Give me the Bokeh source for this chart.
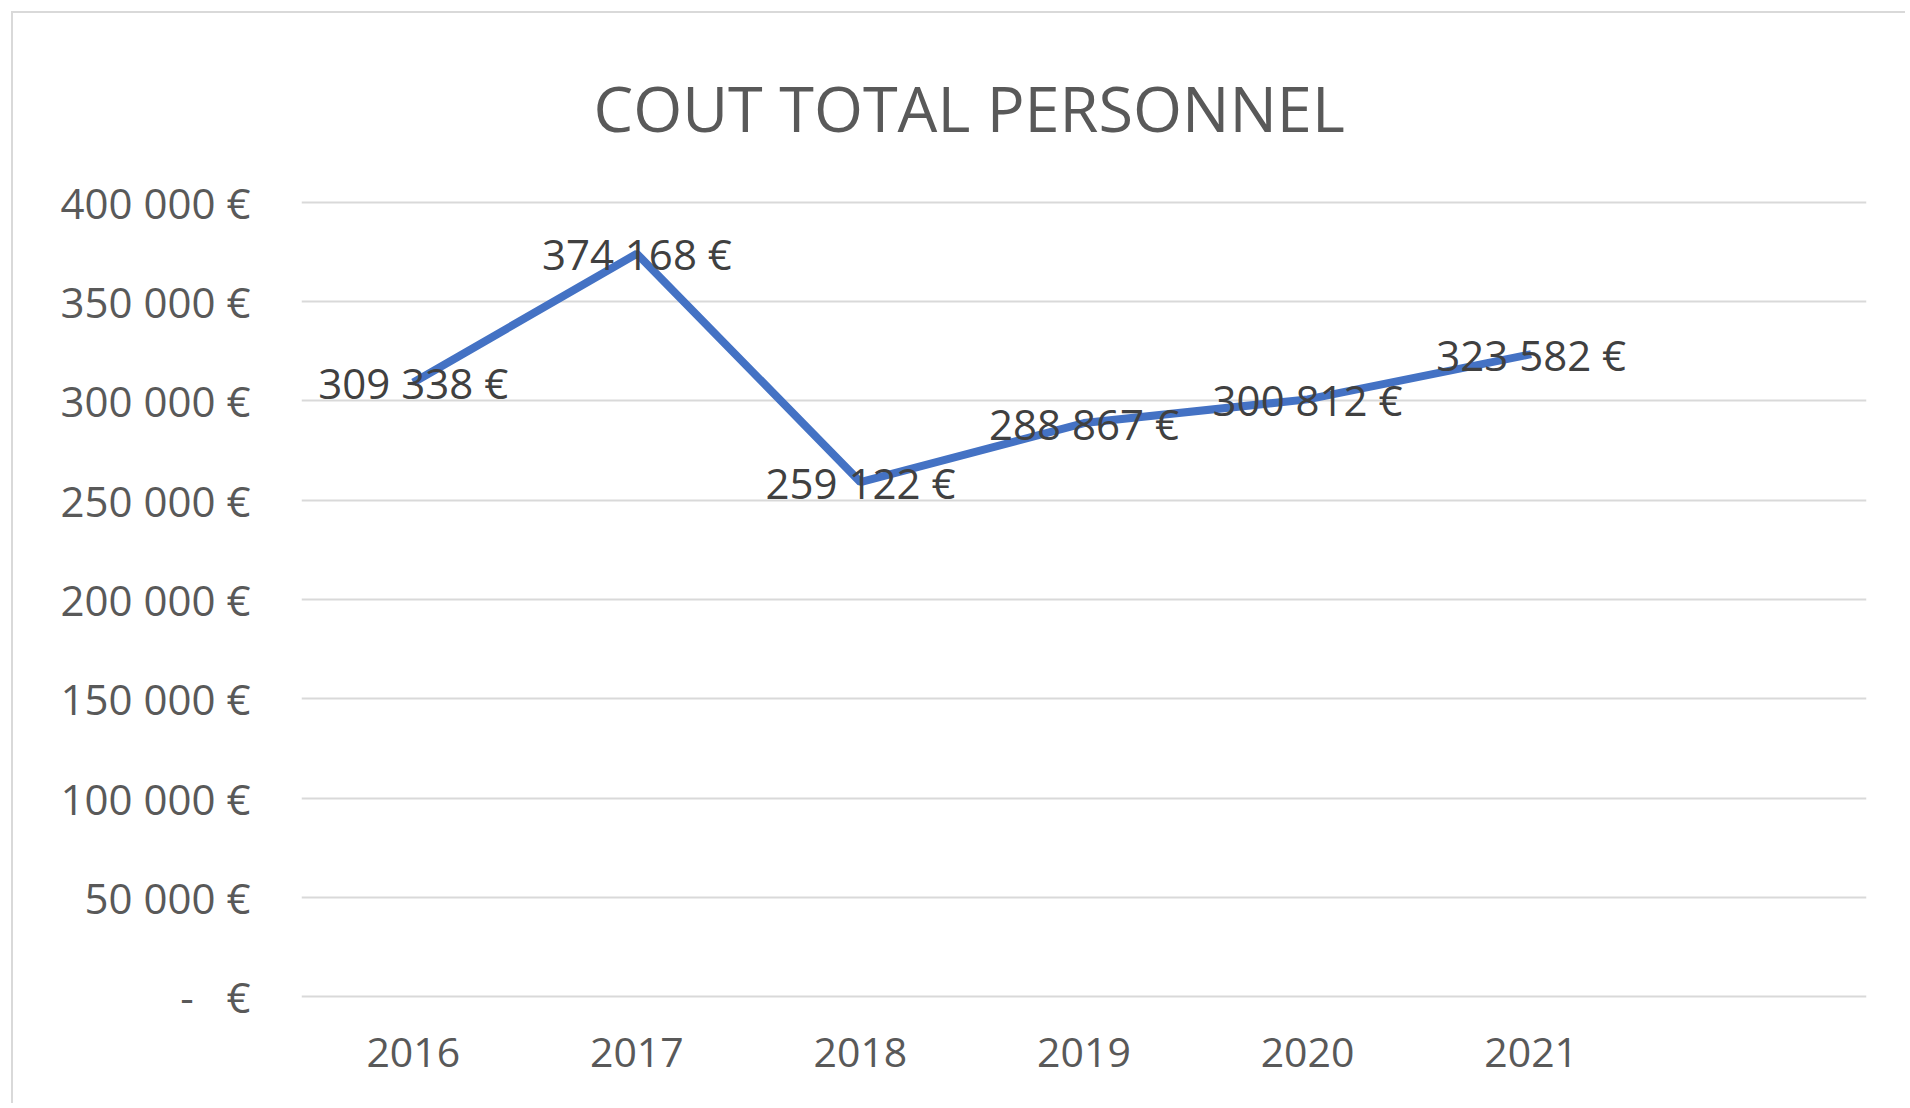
from bokeh.plotting import figure
from bokeh.models import Range1d, FixedTicker, ColumnDataSource
from bokeh.core.properties import value
from bokeh.embed import file_html
from bokeh.resources import INLINE

# ---- data ----
years = ["2016", "2017", "2018", "2019", "2020", "2021"]
costs = [309338, 374168, 259122, 288867, 300812, 323582]
y_ticks = [0, 50000, 100000, 150000, 200000, 250000, 300000, 350000, 400000]
y_tick_labels = ["-\u00a0\u00a0\u00a0€", "50 000 €", "100 000 €", "150 000 €", "200 000 €",
                 "250 000 €", "300 000 €", "350 000 €", "400 000 €"]
title_text = "COUT TOTAL PERSONNEL"
n_slots = 7  # Excel category slots (last one empty)

FONT = "Open Sans"
GREY = "#595959"

xs = list(range(len(years)))
labels = [f"{v:,}".replace(",", "\u00a0") + "\u00a0€" for v in costs]
src = ColumnDataSource(dict(x=xs, y=costs, lab=labels))

p = figure(width=1894, height=1092, output_backend="svg", toolbar_location=None,
           x_range=Range1d(-0.5, n_slots - 0.5), y_range=Range1d(-2500, 402500),
           min_border_left=288, min_border_right=41, min_border_top=184,
           min_border_bottom=104)
p.styles = {"margin-left": "11px", "margin-top": "11px",
            "border-left": "2px solid #D9D9D9", "border-top": "2px solid #D9D9D9"}
p.outline_line_color = None
p.background_fill_color = "white"
p.border_fill_color = "white"

# title
p.title.text = title_text
p.title.align = "left"
p.title.offset = 292
p.title.standoff = 95
p.title.text_font = FONT
p.title.text_font_size = "63px"
p.title.text_font_style = "normal"
p.title.text_color = GREY

# grid
p.xgrid.grid_line_color = None
p.ygrid.grid_line_color = "#D9D9D9"
p.ygrid.grid_line_width = 2
p.ygrid.ticker = FixedTicker(ticks=y_ticks)

# y axis
p.yaxis.ticker = FixedTicker(ticks=y_ticks)
p.yaxis.major_label_overrides = {t: l for t, l in zip(y_ticks, y_tick_labels)}
p.yaxis.axis_line_color = None
p.yaxis.major_tick_line_color = None
p.yaxis.minor_tick_line_color = None
p.yaxis.major_label_standoff = 45
p.yaxis.major_label_text_font = FONT
p.yaxis.major_label_text_font_size = "42px"
p.yaxis.major_label_text_color = GREY

# x axis
p.xaxis.ticker = FixedTicker(ticks=xs)
p.xaxis.major_label_overrides = {i: y for i, y in zip(xs, years)}
p.xaxis.axis_line_color = None
p.xaxis.major_tick_line_color = None
p.xaxis.minor_tick_line_color = None
p.xaxis.major_label_standoff = 30
p.xaxis.major_label_text_font = FONT
p.xaxis.major_label_text_font_size = "41px"
p.xaxis.major_label_text_color = GREY

# line
p.line("x", "y", source=src, line_color="#4472C4", line_width=8)

# data labels
p.text("x", "y", text="lab", source=src, text_align="center",
       text_baseline="middle", text_font=value(FONT), text_font_size="42px",
       text_color="#404040")

open("out.html", "w").write(file_html(p, INLINE))
